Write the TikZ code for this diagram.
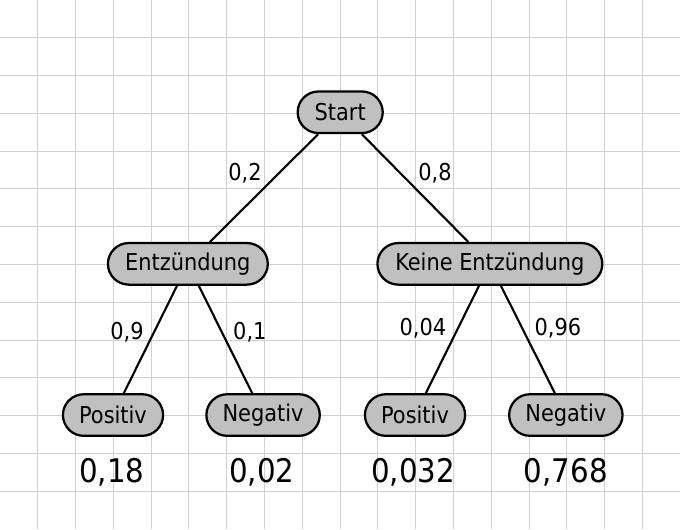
\documentclass[tikz,border=0pt]{standalone}
\usepackage{fontspec}
\setmainfont{DejaVu Sans Condensed}
\usetikzlibrary{shapes.misc}
\definecolor{nodefill}{HTML}{C0C0C0}
\definecolor{gridcol}{HTML}{D0D0D0}
\begin{document}
\begin{tikzpicture}[
  tnode/.style={rounded rectangle, draw=black, line width=1.7pt, fill=nodefill,
    minimum height=1.1cm, inner xsep=0pt, font=\fontsize{17.5}{20}\selectfont},
  conn/.style={line width=1.6pt, draw=black},
  plabel/.style={font=\fontsize{17.5}{20}\selectfont, inner sep=0pt},
  result/.style={font=\fontsize{24.5}{28}\selectfont, inner sep=0pt}
]
\useasboundingbox (0,0) rectangle (17.99,-14.0);
\fill[white] (0,0) rectangle (17.99,-14.0);
\foreach \x in {1,...,17} \draw[gridcol, line width=0.75pt] (\x,0) -- (\x,-14);
\foreach \y in {1,...,13} \draw[gridcol, line width=0.75pt] (0,-\y) -- (17.99,-\y);

\node[tnode, minimum width=2.25cm] (start) at (9,-2.97) {Start};
\node[tnode, minimum width=4.23cm] (ent) at (4.97,-6.98) {Entzündung};
\node[tnode, minimum width=5.95cm] (kent) at (12.96,-6.98) {Keine Entzündung};
\node[tnode, minimum width=2.65cm] (pos1) at (2.99,-10.98) {Positiv};
\node[tnode, minimum width=3.0cm] (neg1) at (6.96,-10.98) {Negativ};
\node[tnode, minimum width=2.65cm] (pos2) at (10.98,-10.98) {Positiv};
\node[tnode, minimum width=3.0cm] (neg2) at (14.97,-10.98) {Negativ};

\draw[conn] (start) -- (ent);
\draw[conn] (start) -- (kent);
\draw[conn] (ent) -- (pos1);
\draw[conn] (ent) -- (neg1);
\draw[conn] (kent) -- (pos2);
\draw[conn] (kent) -- (neg2);

\node[plabel] (l1) at (6.48,-4.58) {0,2};
\node[plabel] (l2) at (11.51,-4.58) {0,8};
\node[plabel] (l3) at (3.36,-8.78) {0,9};
\node[plabel] (l4) at (6.61,-8.78) {0,1};
\node[plabel] (l5) at (11.19,-8.68) {0,04};
\node[plabel] (l6) at (14.76,-8.68) {0,96};

\node[result] (r1) at (2.96,-12.49) {0,18};
\node[result] (r2) at (6.93,-12.49) {0,02};
\node[result] (r3) at (10.93,-12.49) {0,032};
\node[result] (r4) at (14.97,-12.49) {0,768};
\end{tikzpicture}
\end{document}
